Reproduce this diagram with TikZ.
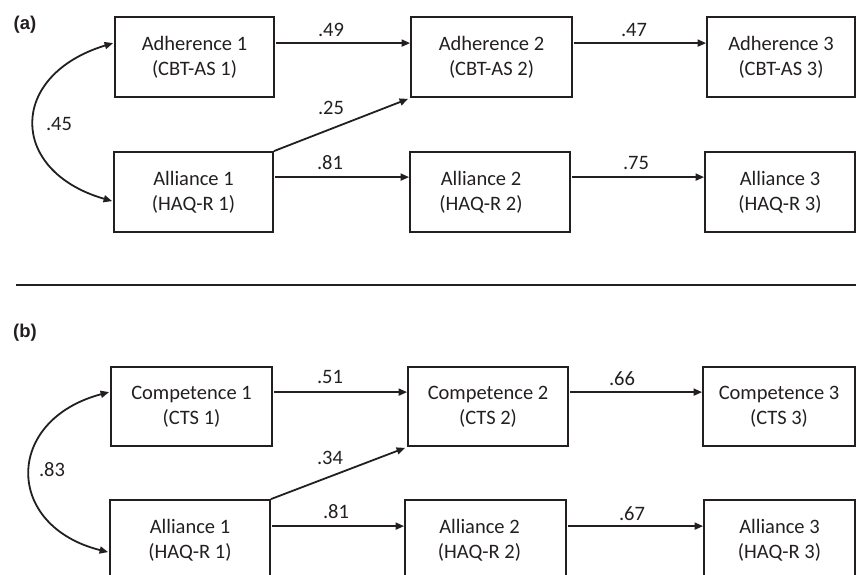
\documentclass[tikz,border=0pt]{standalone}
\usepackage{fontspec}
\setmainfont{Carlito}
\newfontfamily\panelfont{Liberation Sans}
\usetikzlibrary{arrows.meta,calc}
\definecolor{ink}{HTML}{231F20}
\begin{document}
\begin{tikzpicture}[x=1pt,y=-1pt,
  box/.style={draw=ink, text=ink, line width=1.8pt, align=center, inner sep=0pt, minimum height=80pt, font=\fontsize{20.5}{25}\selectfont},
  lab/.style={text=ink, inner sep=0pt, font=\fontsize{20.5}{24}\selectfont},
  panel/.style={text=ink, inner sep=0pt, font=\panelfont\fontsize{18.5}{22}\selectfont\bfseries},
  arr/.style={draw=ink, line width=1.8pt, -{Triangle[length=8.5pt,width=7pt]}},
  dbl/.style={draw=ink, line width=1.8pt, {Triangle[length=8.5pt,width=7pt]}-{Triangle[length=8.5pt,width=7pt]}}]
\clip (0,0) rectangle (856,575);
\useasboundingbox (0,0) rectangle (856,575);
% panel (a)
\node[panel] (pa) at (25,25) {(a)};
\node[box, minimum width=159pt] (A1) at (194.5,57) {Adherence 1\\(CBT-AS 1)};
\node[box, minimum width=161pt] (A2) at (491.5,57) {Adherence 2\\(CBT-AS 2)};
\node[box, minimum width=148pt] (A3) at (781,57) {Adherence 3\\(CBT-AS 3)};
\node[box, minimum width=159pt] (L1) at (193.5,192) {Alliance 1\\(HAQ-R 1)};
\node[box, minimum width=160pt] (L2) at (490,192) {Alliance 2\hspace*{18pt}\\(HAQ-R 2)\hspace*{18pt}};
\node[box, minimum width=150pt] (L3) at (780,192) {Alliance 3\\(HAQ-R 3)};
\draw[arr] ($(A1.north east)+(1,27)$) -- ($(A2.north west)+(0,27)$);
\draw[arr] ($(A2.north east)+(1,27)$) -- ($(A3.north west)+(0,27)$);
\draw[arr] ($(L1.north east)+(1,26)$) -- ($(L2.north west)+(0,26)$);
\draw[arr] ($(L2.north east)+(1,26)$) -- ($(L3.north west)+(0,26)$);
\draw[arr] (L1.north east) -- ($(A2.south west)+(-2,1)$);
\draw[dbl] ($(A1.north west)+(-1,27)$) .. controls (8,75) and (8,171) .. ($(L1.north west)+(-1,50)$);
\node[lab] (la1) at (331,30) {.49};
\node[lab] (la2) at (634,30) {.47};
\node[lab] (la3) at (331,108) {.25};
\node[lab] (la4) at (330,163) {.81};
\node[lab] (la5) at (636,163) {.75};
\node[lab] (la6) at (59,124) {.45};
% separator
\coordinate (s1) at (16,285);
\coordinate (s2) at (856,285);
\draw[ink, line width=1.8pt] (s1) -- (s2);
% panel (b)
\node[panel] (pb) at (25,333) {(b)};
\node[box, minimum width=161pt, minimum height=79pt] (C1) at (191.5,406.5) {Competence 1\\(CTS 1)};
\node[box, minimum width=160pt, minimum height=79pt] (C2) at (488,406.5) {Competence 2\\(CTS 2)};
\node[box, minimum width=152pt, minimum height=79pt] (C3) at (779,406.5) {Competence 3\\(CTS 3)};
\node[box, minimum width=160pt] (B1) at (190,540) {Alliance 1\\(HAQ-R 1)};
\node[box, minimum width=161pt] (B2) at (485.5,540) {Alliance 2\hspace*{12pt}\\(HAQ-R 2)\hspace*{12pt}};
\node[box, minimum width=151pt] (B3) at (779.5,540) {Alliance 3\\(HAQ-R 3)};
\draw[arr] ($(C1.north east)+(1,26)$) -- ($(C2.north west)+(0,26)$);
\draw[arr] ($(C2.north east)+(1,26)$) -- ($(C3.north west)+(0,26)$);
\draw[arr] ($(B1.north east)+(1,27)$) -- ($(B2.north west)+(0,27)$);
\draw[arr] ($(B2.north east)+(1,27)$) -- ($(B3.north west)+(0,27)$);
\draw[arr] (B1.north east) -- ($(C2.south west)+(-2,1)$);
\draw[dbl] ($(C1.north west)+(-1,26)$) .. controls (4,420) and (4,526) .. ($(B1.north west)+(-1,53)$);
\node[lab] (lb1) at (330,377) {.51};
\node[lab] (lb2) at (622,379) {.66};
\node[lab] (lb3) at (330,458) {.34};
\node[lab] (lb4) at (336,512) {.81};
\node[lab] (lb5) at (632,514) {.67};
\node[lab] (lb6) at (52,470) {.83};
\end{tikzpicture}
\end{document}
